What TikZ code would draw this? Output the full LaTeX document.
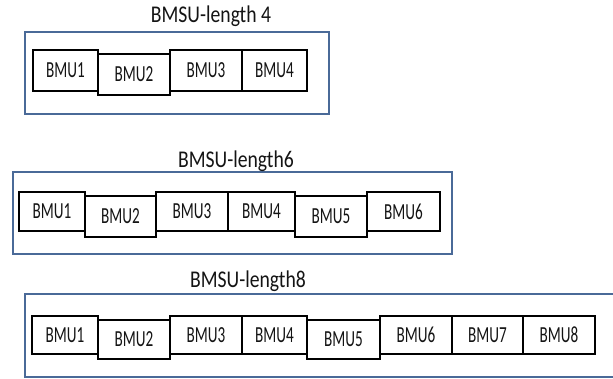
\documentclass[tikz,border=0pt]{standalone}
\usepackage{fontspec}
\setmainfont{Carlito}
\definecolor{frameblue}{HTML}{4A6A98}
\definecolor{inktext}{HTML}{141414}
% condensed lettering for unit labels and group titles
\newcommand\unitlabel[1]{\scalebox{0.66}[1]{#1}}
\newcommand\grouptitle[1]{\scalebox{0.82}[1]{#1}}
\begin{document}
\begin{tikzpicture}[x=1pt,y=-1pt,
  frame/.style={draw=frameblue, line width=2pt, inner sep=0pt, outer sep=0pt, anchor=north west},
  unit/.style={draw=black, fill=white, line width=2.6pt, inner sep=0pt, outer sep=0pt,
    anchor=north west, text=inktext, font=\fontsize{23}{23}\selectfont},
  title/.style={anchor=base, text=inktext, inner sep=0pt, font=\fontsize{24}{24}\selectfont}]
\useasboundingbox (0,0) rectangle (613,379);

% ---- length-4 group ----
\node[frame, minimum width=304pt, minimum height=82pt] (g1) at (25,32) {};
\node[title] (t1) at (211,23) {\grouptitle{BMSU-length 4}};
\node[unit, minimum width=65pt, minimum height=41pt] (a1) at (33,50) {\unitlabel{BMU1}};
\node[unit, minimum width=72pt, minimum height=41pt] (a2) at (98,54) {\unitlabel{BMU2}};
\node[unit, minimum width=72pt, minimum height=41pt] (a3) at (170,50) {\unitlabel{BMU3}};
\node[unit, minimum width=65pt, minimum height=41pt] (a4) at (242,50) {\unitlabel{BMU4}};

% ---- length-6 group ----
\node[frame, minimum width=439pt, minimum height=82pt] (g2) at (13,172) {};
\node[title] (t2) at (236,168) {\grouptitle{BMSU-length6}};
\node[unit, minimum width=66pt, minimum height=39pt] (b1) at (19,192) {\unitlabel{BMU1}};
\node[unit, minimum width=71pt, minimum height=41pt] (b2) at (85,196) {\unitlabel{BMU2}};
\node[unit, minimum width=72pt, minimum height=39pt] (b3) at (156,192) {\unitlabel{BMU3}};
\node[unit, minimum width=67pt, minimum height=39pt] (b4) at (228,192) {\unitlabel{BMU4}};
\node[unit, minimum width=72pt, minimum height=41pt] (b5) at (295,196) {\unitlabel{BMU5}};
\node[unit, minimum width=73pt, minimum height=39pt] (b6) at (367,192) {\unitlabel{BMU6}};

% ---- length-8 group (frame runs past the right edge) ----
\node[frame, minimum width=600pt, minimum height=83pt] (g3) at (25,294) {};
\node[title] (t3) at (248,288) {\grouptitle{BMSU-length8}};
\node[unit, minimum width=66pt, minimum height=38pt] (c1) at (32,316) {\unitlabel{BMU1}};
\node[unit, minimum width=72pt, minimum height=39pt] (c2) at (98,320) {\unitlabel{BMU2}};
\node[unit, minimum width=72pt, minimum height=38pt] (c3) at (170,316) {\unitlabel{BMU3}};
\node[unit, minimum width=65pt, minimum height=38pt] (c4) at (242,316) {\unitlabel{BMU4}};
\node[unit, minimum width=73pt, minimum height=39pt] (c5) at (307,320) {\unitlabel{BMU5}};
\node[unit, minimum width=72pt, minimum height=38pt] (c6) at (380,316) {\unitlabel{BMU6}};
\node[unit, minimum width=71pt, minimum height=38pt] (c7) at (452,316) {\unitlabel{BMU7}};
\node[unit, minimum width=72pt, minimum height=38pt] (c8) at (523,316) {\unitlabel{BMU8}};
\end{tikzpicture}
\end{document}
